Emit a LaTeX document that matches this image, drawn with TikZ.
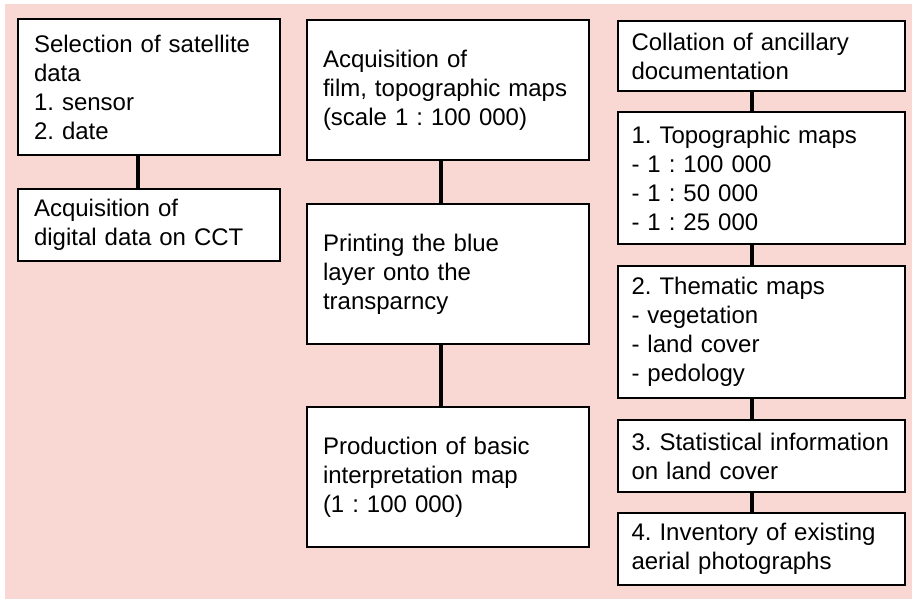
\documentclass[tikz,border=0pt]{standalone}
\usepackage{fontspec}
\setmainfont{Liberation Sans}
\definecolor{bgpink}{RGB}{249,215,211}
\tikzset{
  stepbox/.style={draw, fill=white, line width=1pt, anchor=north west,
    align=left, inner xsep=8pt, inner ysep=0pt,
    font=\fontsize{12}{14.5}\selectfont\frenchspacing},
  link/.style={line width=2pt},
}

\begin{document}
\begin{tikzpicture}[x=0.5pt,y=-0.5pt]
  \useasboundingbox (0,0) rectangle (912,599);
  \fill[bgpink] (5,4) rectangle (912,599);
  % left column: satellite data
  \node[stepbox, text width=115pt, minimum height=68pt] (selsat) at (17,18)
    {Selection of satellite\\data\\1. sensor\\2. date};
  \node[stepbox, text width=115pt, minimum height=36pt] (acqcct) at (17,188)
    {Acquisition of\\digital data on CCT};
  \draw[link] ([xshift=-5.5pt]selsat.south) -- ([xshift=-5.5pt]acqcct.north);
  % middle column: film and maps
  \node[stepbox, text width=125pt, minimum height=70pt] (acqfilm) at (306,19)
    {Acquisition of\\film, topographic maps\\(scale 1 : 100 000)};
  \node[stepbox, text width=125pt, minimum height=70pt] (printblue) at (306,203)
    {Printing the blue\\layer onto the\\transparncy};
  \node[stepbox, text width=125pt, minimum height=70pt] (prodmap) at (306,406)
    {Production of basic\\interpretation map\\(1 : 100 000)};
  \draw[link] ([xshift=-3.5pt]acqfilm.south) -- ([xshift=-3.5pt]printblue.north);
  \draw[link] ([xshift=-3.5pt]printblue.south) -- ([xshift=-3.5pt]prodmap.north);
  % right column: ancillary documentation
  \node[stepbox, inner xsep=6.75pt, text width=130pt, minimum height=35pt] (collation) at (617,20)
    {Collation of ancillary\\documentation};
  \node[stepbox, inner xsep=6.75pt, text width=130pt, minimum height=66pt] (topomaps) at (617,111)
    {1. Topographic maps\\- 1 : 100 000\\- 1 : 50 000\\- 1 : 25 000};
  \node[stepbox, inner xsep=6.75pt, text width=130pt, minimum height=66pt] (themmaps) at (617,265)
    {2. Thematic maps\\- vegetation\\- land cover\\- pedology};
  \node[stepbox, inner xsep=6.75pt, text width=130pt, minimum height=36pt] (statinfo) at (617,419)
    {3. Statistical information\\on land cover};
  \node[stepbox, inner xsep=6.75pt, text width=130pt, minimum height=36pt] (aerial) at (617,512)
    {4. Inventory of existing\\aerial photographs};
  \foreach \a/\b in {collation/topomaps, topomaps/themmaps, themmaps/statinfo, statinfo/aerial}
    \draw[link] ([xshift=-4.75pt]\a.south) -- ([xshift=-4.75pt]\b.north);
\end{tikzpicture}
\end{document}
